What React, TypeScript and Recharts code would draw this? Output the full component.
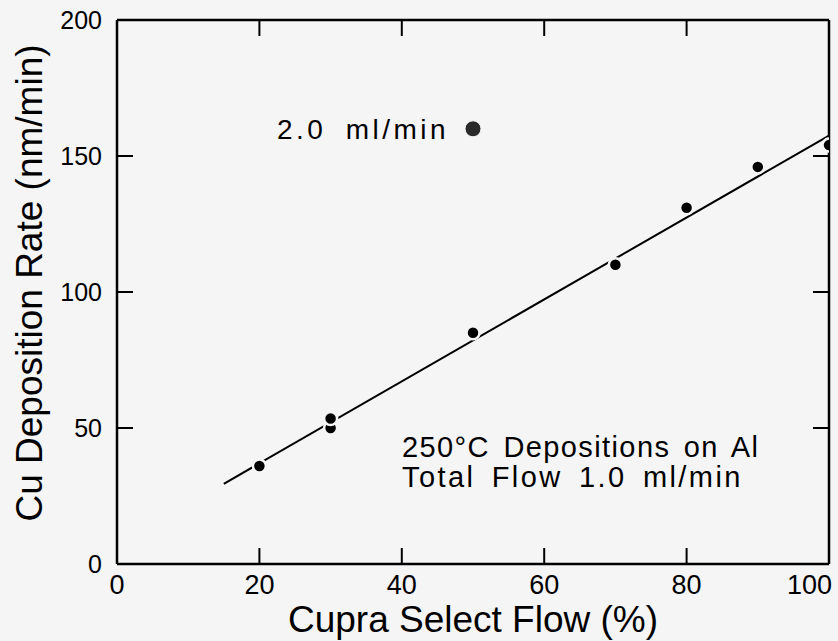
import { ScatterChart, Scatter, XAxis, YAxis, Customized } from "recharts";

// Cupra Select flow (%) vs Cu deposition rate (nm/min), total flow 1.0 ml/min
const flowPct = [20, 30, 30, 50, 70, 80, 90, 100];
const depRate = [36, 50, 53.5, 85, 110, 131, 146, 154];

// single run at 2.0 ml/min total flow
const highFlowPct = [50];
const highFlowRate = [160];

// least squares line as drawn
const fitPct = [15, 100];
const fitRate = [29.5, 157.5];

const xTicks = [0, 20, 40, 60, 80, 100];
const yTicks = [0, 50, 100, 150, 200];
const innerXTicks = [20, 40, 60, 80];
const innerYTicks = [50, 100, 150];

const bg = "#f5f5f5";
const font = "'Liberation Sans', Arial, sans-serif";
const frame = { stroke: "#000", strokeWidth: 2.5 };

const points = flowPct.map((x, i) => ({ x, y: depRate[i] }));
const highPoints = highFlowPct.map((x, i) => ({ x, y: highFlowRate[i] }));
const fitPoints = fitPct.map((x, i) => ({ x, y: fitRate[i] }));

// anchor points of the inward tick marks on each side of the frame
const bottomMarks = innerXTicks.map((x) => ({ x, y: 0 }));
const topMarks = innerXTicks.map((x) => ({ x, y: 200 }));
const leftMarks = innerYTicks.map((y) => ({ x: 0, y }));
const rightMarks = innerYTicks.map((y) => ({ x: 100, y }));

function mark(dx: number, dy: number) {
  return (p: any) => (
    <line x1={p.cx} y1={p.cy} x2={p.cx + dx} y2={p.cy + dy} stroke="#000" strokeWidth={2} />
  );
}

function BottomTick({ x, y, payload }: any) {
  const v = payload.value;
  const last = v === 100;
  return (
    <text
      x={last ? x + 6 : x}
      y={y + 30}
      textAnchor={last ? "end" : "middle"}
      fontSize={27}
      fill="#000"
      fontFamily={font}
    >
      {v}
    </text>
  );
}

function LeftTick({ x, y, payload }: any) {
  return (
    <text x={x - 15} y={y} dy="0.36em" textAnchor="end" fontSize={25} fill="#000" fontFamily={font}>
      {payload.value}
    </text>
  );
}

function Dot(props: any) {
  return <circle cx={props.cx} cy={props.cy} r={6.5} fill="#000" stroke={bg} strokeWidth={2.5} />;
}

function BigDot(props: any) {
  return <circle cx={props.cx} cy={props.cy} r={8} fill="#2a2a2a" stroke={bg} strokeWidth={1} />;
}

function Texts() {
  return (
    <g fontFamily={font} fill="#000">
      <text x={473} y={632} textAnchor="middle" fontSize={37}>
        Cupra Select Flow (%)
      </text>
      <text transform="translate(42, 283) rotate(-90)" textAnchor="middle" fontSize={37}>
        Cu Deposition Rate (nm/min)
      </text>
      <text x={277} y={139} fontSize={28} letterSpacing={3.5} wordSpacing={8}>
        2.0 ml/min
      </text>
      <text x={402} y={457} fontSize={29} letterSpacing={1.4} wordSpacing={4}>
        250°C Depositions on Al
      </text>
      <text x={402} y={487} fontSize={29} letterSpacing={2.4} wordSpacing={6}>
        Total Flow 1.0 ml/min
      </text>
    </g>
  );
}

export default function App() {
  return (
    <div style={{ position: "absolute", left: 0, top: 0, width: 838, height: 641, background: bg }}>
      <ScatterChart width={838} height={641} margin={{ top: 19, right: 8, bottom: 0, left: 0 }}>
        <XAxis
          type="number"
          dataKey="x"
          domain={[0, 100]}
          ticks={xTicks}
          allowDataOverflow
          height={77}
          axisLine={frame}
          tickLine={false}
          tickSize={0}
          tickMargin={0}
          tick={(p: any) => <BottomTick {...p} />}
        />
        <XAxis
          xAxisId="top"
          orientation="top"
          type="number"
          dataKey="x"
          domain={[0, 100]}
          height={1}
          axisLine={frame}
          tickLine={false}
          tick={false}
        />
        <YAxis
          type="number"
          dataKey="y"
          domain={[0, 200]}
          ticks={yTicks}
          allowDataOverflow
          width={117}
          axisLine={frame}
          tickLine={false}
          tickSize={0}
          tickMargin={0}
          tick={(p: any) => <LeftTick {...p} />}
        />
        <YAxis
          yAxisId="right"
          orientation="right"
          type="number"
          dataKey="y"
          domain={[0, 200]}
          width={1}
          axisLine={frame}
          tickLine={false}
          tick={false}
        />
        <Scatter data={bottomMarks} shape={mark(0, -16)} isAnimationActive={false} />
        <Scatter data={topMarks} shape={mark(0, 16)} isAnimationActive={false} />
        <Scatter data={leftMarks} shape={mark(16, 0)} isAnimationActive={false} />
        <Scatter data={rightMarks} shape={mark(-16, 0)} isAnimationActive={false} />
        <Scatter
          data={fitPoints}
          xAxisId="top"
          yAxisId="right"
          line={{ stroke: "#000", strokeWidth: 2 }}
          shape={() => <g />}
          isAnimationActive={false}
        />
        <Scatter data={points} shape={<Dot />} isAnimationActive={false} />
        <Scatter data={highPoints} shape={<BigDot />} isAnimationActive={false} />
        <Customized component={Texts} />
      </ScatterChart>
    </div>
  );
}
